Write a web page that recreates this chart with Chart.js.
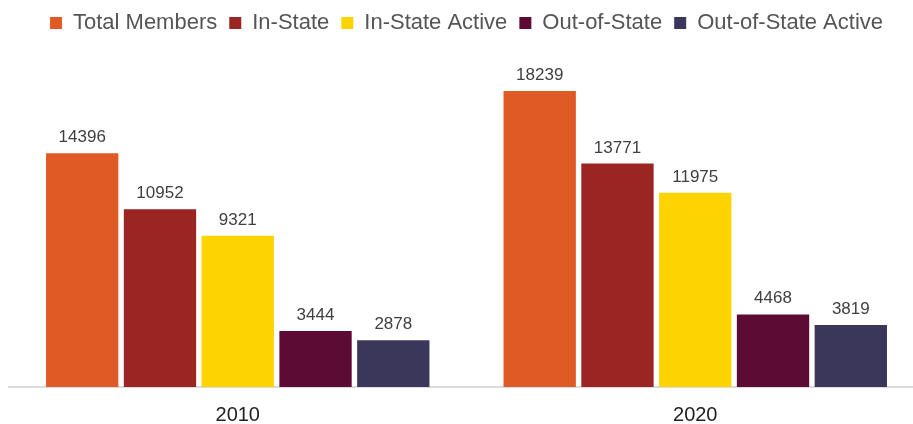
<!DOCTYPE html>
<html>
<head>
<meta charset="utf-8">
<script src="https://cdn.jsdelivr.net/npm/chart.js@4"></script>
<style>
html,body{margin:0;padding:0;background:#fff;overflow:hidden;}
#wrap{position:relative;width:924px;height:443px;}
</style>
</head>
<body>
<div id="wrap"><canvas id="c"></canvas></div>
<script>
const categories = ["2010", "2020"];
const seriesNames = ["Total Members", "In-State", "In-State Active", "Out-of-State", "Out-of-State Active"];
const totalMembers = [14396, 18239];
const inState = [10952, 13771];
const inStateActive = [9321, 11975];
const outOfState = [3444, 4468];
const outOfStateActive = [2878, 3819];
const colors = ["#E05A25", "#9B2522", "#FDD400", "#5C0B35", "#3B375A"];

const FONT = '"Liberation Sans", Arial, sans-serif';

const valueLabels = {
  id: 'valueLabels',
  afterDatasetsDraw(chart) {
    const ctx = chart.ctx;
    ctx.save();
    ctx.font = '17px ' + FONT;
    ctx.fillStyle = '#404040';
    ctx.textAlign = 'center';
    ctx.textBaseline = 'alphabetic';
    chart.data.datasets.forEach((ds, i) => {
      const meta = chart.getDatasetMeta(i);
      meta.data.forEach((bar, j) => {
        ctx.fillText(String(ds.data[j]), bar.x, bar.y - 11);
      });
    });
    ctx.restore();
  }
};

const allSeries = [totalMembers, inState, inStateActive, outOfState, outOfStateActive];
new Chart(document.getElementById('c'), {
  type: 'bar',
  data: {
    labels: categories,
    datasets: allSeries.map((d, i) => ({
      label: seriesNames[i],
      data: d,
      backgroundColor: colors[i],
      borderWidth: 0,
      categoryPercentage: 0.85,
      barPercentage: 0.93
    }))
  },
  options: {
    responsive: true,
    maintainAspectRatio: false,
    animation: false,
    layout: { padding: { left: 9, right: 0, top: 0, bottom: 0 } },
    plugins: {
      legend: {
        position: 'top',
        labels: {
          boxWidth: 12, boxHeight: 12, padding: 12,
          color: '#555555',
          font: { size: 22, family: FONT }
        }
      },
      tooltip: { enabled: false }
    },
    scales: {
      x: {
        grid: { display: false, drawTicks: false },
        border: { display: true, color: '#dcdcdc', width: 2 },
        ticks: { color: '#222222', padding: 16, font: { size: 20, family: FONT } }
      },
      y: {
        display: false,
        min: 0,
        max: 21135
      }
    }
  },
  plugins: [valueLabels]
});
</script>
</body>
</html>
